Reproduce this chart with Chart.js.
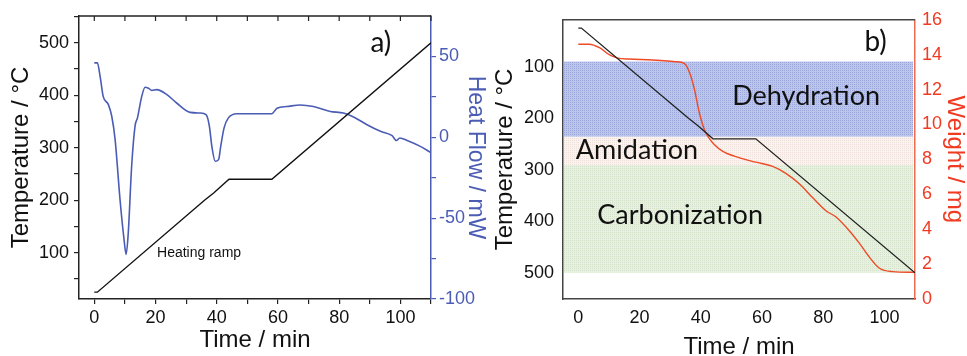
<!DOCTYPE html>
<html>
<head>
<meta charset="utf-8">
<script src="https://cdn.jsdelivr.net/npm/chart.js@4/dist/chart.umd.min.js"></script>
<style>
  body { margin: 0; overflow: hidden; background: #fff; }
  #wrap { position: relative; width: 967px; height: 356px; }
  canvas { position: absolute; top: 0; }
</style>
</head>
<body>
<div id="wrap">
  <canvas id="chartA" width="486" height="356" style="left:0"></canvas>
  <canvas id="chartB" width="487" height="356" style="left:480px"></canvas>
</div>
<script>
// tick labels
const timeTicks = [0, 20, 40, 60, 80, 100];
const timeMinor = [0, 10, 20, 30, 40, 50, 60, 70, 80, 90, 100, 110];
const tempTicks = [100, 200, 300, 400, 500];
const tempMinor = [50, 100, 150, 200, 250, 300, 350, 400, 450, 500, 550];
const heatTicks = [-100, -50, 0, 50];
const heatMinor = [-100, -75, -50, -25, 0, 25, 50];
const weightTicks = [0, 2, 4, 6, 8, 10, 12, 14, 16];

// heating ramp (°C vs min)
const rampTime = [0, 1, 36, 39, 44, 58, 110];
const rampTemp = [25, 25, 200, 214, 240, 240, 500];

// DSC heat flow (mW)
const heatTime = [0, 1, 1.9, 2.9, 4.6, 5.7, 6.8, 8.4, 9.7, 10.4, 11.1, 12.2, 13.3, 14.1, 15.5, 16.6, 17.7, 18.8, 20.4, 23.7, 26.9, 31.3, 34.6, 36.5, 37.6, 38.4, 39.5, 40.6, 41.3, 42.4, 43.8, 46.6, 52, 58, 59.7, 62.9, 67.3, 71.6, 77.1, 81.4, 84.7, 89.1, 93.5, 97.3, 98.7, 99.8, 102.2, 106.5, 109.8];
const heatFlow = [46, 46, 37.7, 25.3, 20.2, 13, -1.4, -38.5, -63, -72.4, -59, -17.9, 6.8, 12, 25.3, 30.9, 30.3, 29, 29.5, 26.4, 21.2, 15.4, 15, 14, 6.8, -5.6, -14.8, -13.8, -5.6, 5.8, 12, 14.6, 14.6, 14.6, 18, 19, 20, 19, 16, 15, 12.6, 7.8, 3.7, 1, -2, -0.4, -2, -5.6, -9.3];

// TGA weight (mg)
const weightTime = [0, 3.6, 6.9, 10.1, 12.9, 16.7, 24.3, 31.9, 34.6, 36.3, 37.9, 39.5, 41.2, 42.8, 44.4, 47.2, 52.5, 58, 63.5, 67.8, 72.2, 76.6, 80.9, 84.2, 88.6, 91.8, 95.1, 98.4, 102.7, 110];
const weight = [14.6, 14.6, 14.4, 14.0, 13.8, 13.75, 13.7, 13.6, 13.5, 13.0, 12.05, 10.7, 9.7, 9.2, 8.85, 8.46, 8.1, 7.84, 7.6, 7.2, 6.6, 5.8, 5.06, 4.7, 3.9, 3.2, 2.4, 1.76, 1.57, 1.53];

// stages (°C)
const stageNames = ["Dehydration", "Amidation", "Carbonization"];
const stageFrom = [90, 236, 291];
const stageTo = [236, 291, 500];

const SANS = '"Liberation Sans", Arial, sans-serif';
const BLUE = "#4b5cb4";
const RED = "#f03a22";

const pts = (xs, ys) => xs.map((x, i) => ({ x: x, y: ys[i] }));
const setTicks = vals => scale => { scale.ticks = vals.map(v => ({ value: v })); };

// ---------- panel a ----------
const frameA = {
  id: "frameA",
  afterDraw(chart) {
    const { ctx, chartArea: a, scales } = chart;
    ctx.save();
    ctx.strokeStyle = "#222";
    ctx.lineWidth = 1.5;
    ctx.beginPath();
    ctx.moveTo(a.left, a.top);
    ctx.lineTo(a.right, a.top);
    ctx.stroke();
    ctx.lineWidth = 1.2;
    ctx.beginPath();
    timeMinor.forEach(v => {
      const x = scales.x.getPixelForValue(v);
      ctx.moveTo(x, a.top);
      ctx.lineTo(x, a.top + 5);
    });
    ctx.stroke();
    ctx.fillStyle = "#111";
    ctx.textBaseline = "middle";
    ctx.font = "28px Lato";
    ctx.fillText("a)", scales.x.getPixelForValue(90.2), scales.y.getPixelForValue(499));
    ctx.font = "14px " + SANS;
    ctx.fillText("Heating ramp", scales.x.getPixelForValue(20.5), scales.y.getPixelForValue(100));
    ctx.restore();
  }
};

new Chart(document.getElementById("chartA"), {
  type: "line",
  data: {
    datasets: [
      { data: pts(rampTime, rampTemp), yAxisID: "y", borderColor: "#111", borderWidth: 1.4, pointRadius: 0, tension: 0 },
      { data: pts(heatTime, heatFlow), yAxisID: "y2", borderColor: BLUE, borderWidth: 1.6, pointRadius: 0, cubicInterpolationMode: "monotone" }
    ]
  },
  options: {
    responsive: false,
    animation: false,
    devicePixelRatio: 1,
    layout: { padding: { top: 16, left: 0, right: 0, bottom: 0 } },
    plugins: { legend: { display: false }, tooltip: { enabled: false } },
    scales: {
      x: {
        type: "linear", min: -5, max: 110,
        afterBuildTicks: setTicks(timeMinor),
        afterFit: s => { s.height = 57; },
        ticks: { callback: v => timeTicks.includes(v) ? v : "", color: "#111", font: { family: SANS, size: 18 }, padding: 3, maxRotation: 0, autoSkip: false },
        grid: { drawOnChartArea: false, tickLength: 5, color: "#222", lineWidth: 1.2 },
        border: { color: "#222", width: 1.5 },
        title: { display: true, text: "Time / min", color: "#111", font: { family: SANS, size: 24, lineHeight: 1 }, padding: { top: 0, bottom: 4 } }
      },
      y: {
        position: "left", min: 12, max: 551,
        afterBuildTicks: setTicks(tempMinor),
        afterFit: s => { s.width = 79; },
        ticks: { callback: v => tempTicks.includes(v) ? v : "", color: "#111", font: { family: SANS, size: 18 }, padding: 5, autoSkip: false },
        grid: { drawOnChartArea: false, tickLength: 5, color: "#222", lineWidth: 1.2 },
        border: { color: "#222", width: 1.5 },
        title: { display: true, text: "Temperature / °C", color: "#111", font: { family: SANS, size: 24, lineHeight: 1 }, padding: { top: 9, bottom: 0 } }
      },
      y2: {
        position: "right", min: -100, max: 75,
        afterBuildTicks: setTicks(heatMinor),
        afterFit: s => { s.width = 55; },
        ticks: { callback: v => heatTicks.includes(v) ? v : "", color: BLUE, font: { family: SANS, size: 18 }, padding: 3, autoSkip: false },
        grid: { drawOnChartArea: false, tickLength: 5, color: BLUE, lineWidth: 1.2 },
        border: { color: BLUE, width: 1.5 },
        title: { display: true, text: "Heat Flow / mW", color: BLUE, font: { family: SANS, size: 23, lineHeight: 1 }, padding: { top: -1, bottom: 0 } }
      }
    }
  },
  plugins: [frameA]
});

// ---------- panel b ----------
function dotPattern(base, dot) {
  const c = document.createElement("canvas");
  c.width = 2; c.height = 2;
  const g = c.getContext("2d");
  g.fillStyle = base; g.fillRect(0, 0, 2, 2);
  g.fillStyle = dot; g.fillRect(0, 0, 1, 1);
  return c;
}
const stageFill = [
  dotPattern("#bcc5ea", "#9ba7da"),
  dotPattern("#fbf3ef", "#efe1d9"),
  dotPattern("#e8f0e2", "#d3e2c9")
];
// where each stage name sits (min, °C)
const stageLabelAt = [[50.3, 157], [-0.8, 262], [6.2, 388]];

const stagesB = {
  id: "stagesB",
  beforeDatasetsDraw(chart) {
    const { ctx, chartArea: a, scales } = chart;
    ctx.save();
    stageNames.forEach((n, i) => {
      const y0 = scales.y.getPixelForValue(stageFrom[i]);
      const y1 = scales.y.getPixelForValue(stageTo[i]);
      ctx.fillStyle = ctx.createPattern(stageFill[i], "repeat");
      ctx.fillRect(a.left + 1, y0, a.right - a.left - 3, y1 - y0);
    });
    ctx.fillStyle = "#111";
    ctx.textBaseline = "middle";
    ctx.font = "27px Lato";
    stageNames.forEach((n, i) => {
      ctx.fillText(n, scales.x.getPixelForValue(stageLabelAt[i][0]), scales.y.getPixelForValue(stageLabelAt[i][1]));
    });
    ctx.font = "28px Lato";
    ctx.fillText("b)", scales.x.getPixelForValue(93.5), scales.y.getPixelForValue(52));
    ctx.restore();
  },
  afterDraw(chart) {
    const { ctx, chartArea: a } = chart;
    ctx.save();
    ctx.strokeStyle = "#444";
    ctx.lineWidth = 1.5;
    ctx.beginPath();
    ctx.moveTo(a.left, a.top);
    ctx.lineTo(a.right, a.top);
    ctx.stroke();
    ctx.restore();
  }
};

new Chart(document.getElementById("chartB"), {
  type: "line",
  data: {
    datasets: [
      { data: pts(rampTime, rampTemp), yAxisID: "y", borderColor: "#222", borderWidth: 1.3, pointRadius: 0, tension: 0 },
      { data: pts(weightTime, weight), yAxisID: "y2", borderColor: "#ee4a26", borderWidth: 1.4, pointRadius: 0, cubicInterpolationMode: "monotone" }
    ]
  },
  options: {
    responsive: false,
    animation: false,
    devicePixelRatio: 1,
    layout: { padding: { top: 16, left: 0, right: 0, bottom: 0 } },
    plugins: { legend: { display: false }, tooltip: { enabled: false } },
    scales: {
      x: {
        type: "linear", min: -5, max: 110,
        afterBuildTicks: setTicks(timeTicks),
        afterFit: s => { s.height = 57; },
        ticks: { color: "#111", font: { family: SANS, size: 18 }, padding: 8, maxRotation: 0, autoSkip: false },
        grid: { drawOnChartArea: false, drawTicks: false },
        border: { color: "#444", width: 1.5 },
        title: { display: true, text: "Time / min", color: "#111", font: { family: SANS, size: 24, lineHeight: 1 }, padding: { top: 0, bottom: -3 } }
      },
      y: {
        position: "left", reverse: true, min: 9, max: 551,
        afterBuildTicks: setTicks(tempTicks),
        afterFit: s => { s.width = 83; },
        ticks: { color: "#111", font: { family: SANS, size: 18 }, padding: 9, autoSkip: false },
        grid: { drawOnChartArea: false, drawTicks: false },
        border: { color: "#444", width: 1.5 },
        title: { display: true, text: "Temperature / °C", color: "#111", font: { family: SANS, size: 24, lineHeight: 1 }, padding: { top: 13, bottom: 0 } }
      },
      y2: {
        position: "right", min: 0, max: 16,
        afterBuildTicks: setTicks(weightTicks),
        afterFit: s => { s.width = 52; },
        ticks: { color: RED, font: { family: SANS, size: 18 }, padding: 7, autoSkip: false },
        grid: { drawOnChartArea: false, drawTicks: false },
        border: { color: "#f06a50", width: 1.5 },
        title: { display: true, text: "Weight / mg", color: RED, font: { family: SANS, size: 24, lineHeight: 1 }, padding: { top: 0, bottom: 0 } }
      }
    }
  },
  plugins: [stagesB]
});
</script>
</body>
</html>
